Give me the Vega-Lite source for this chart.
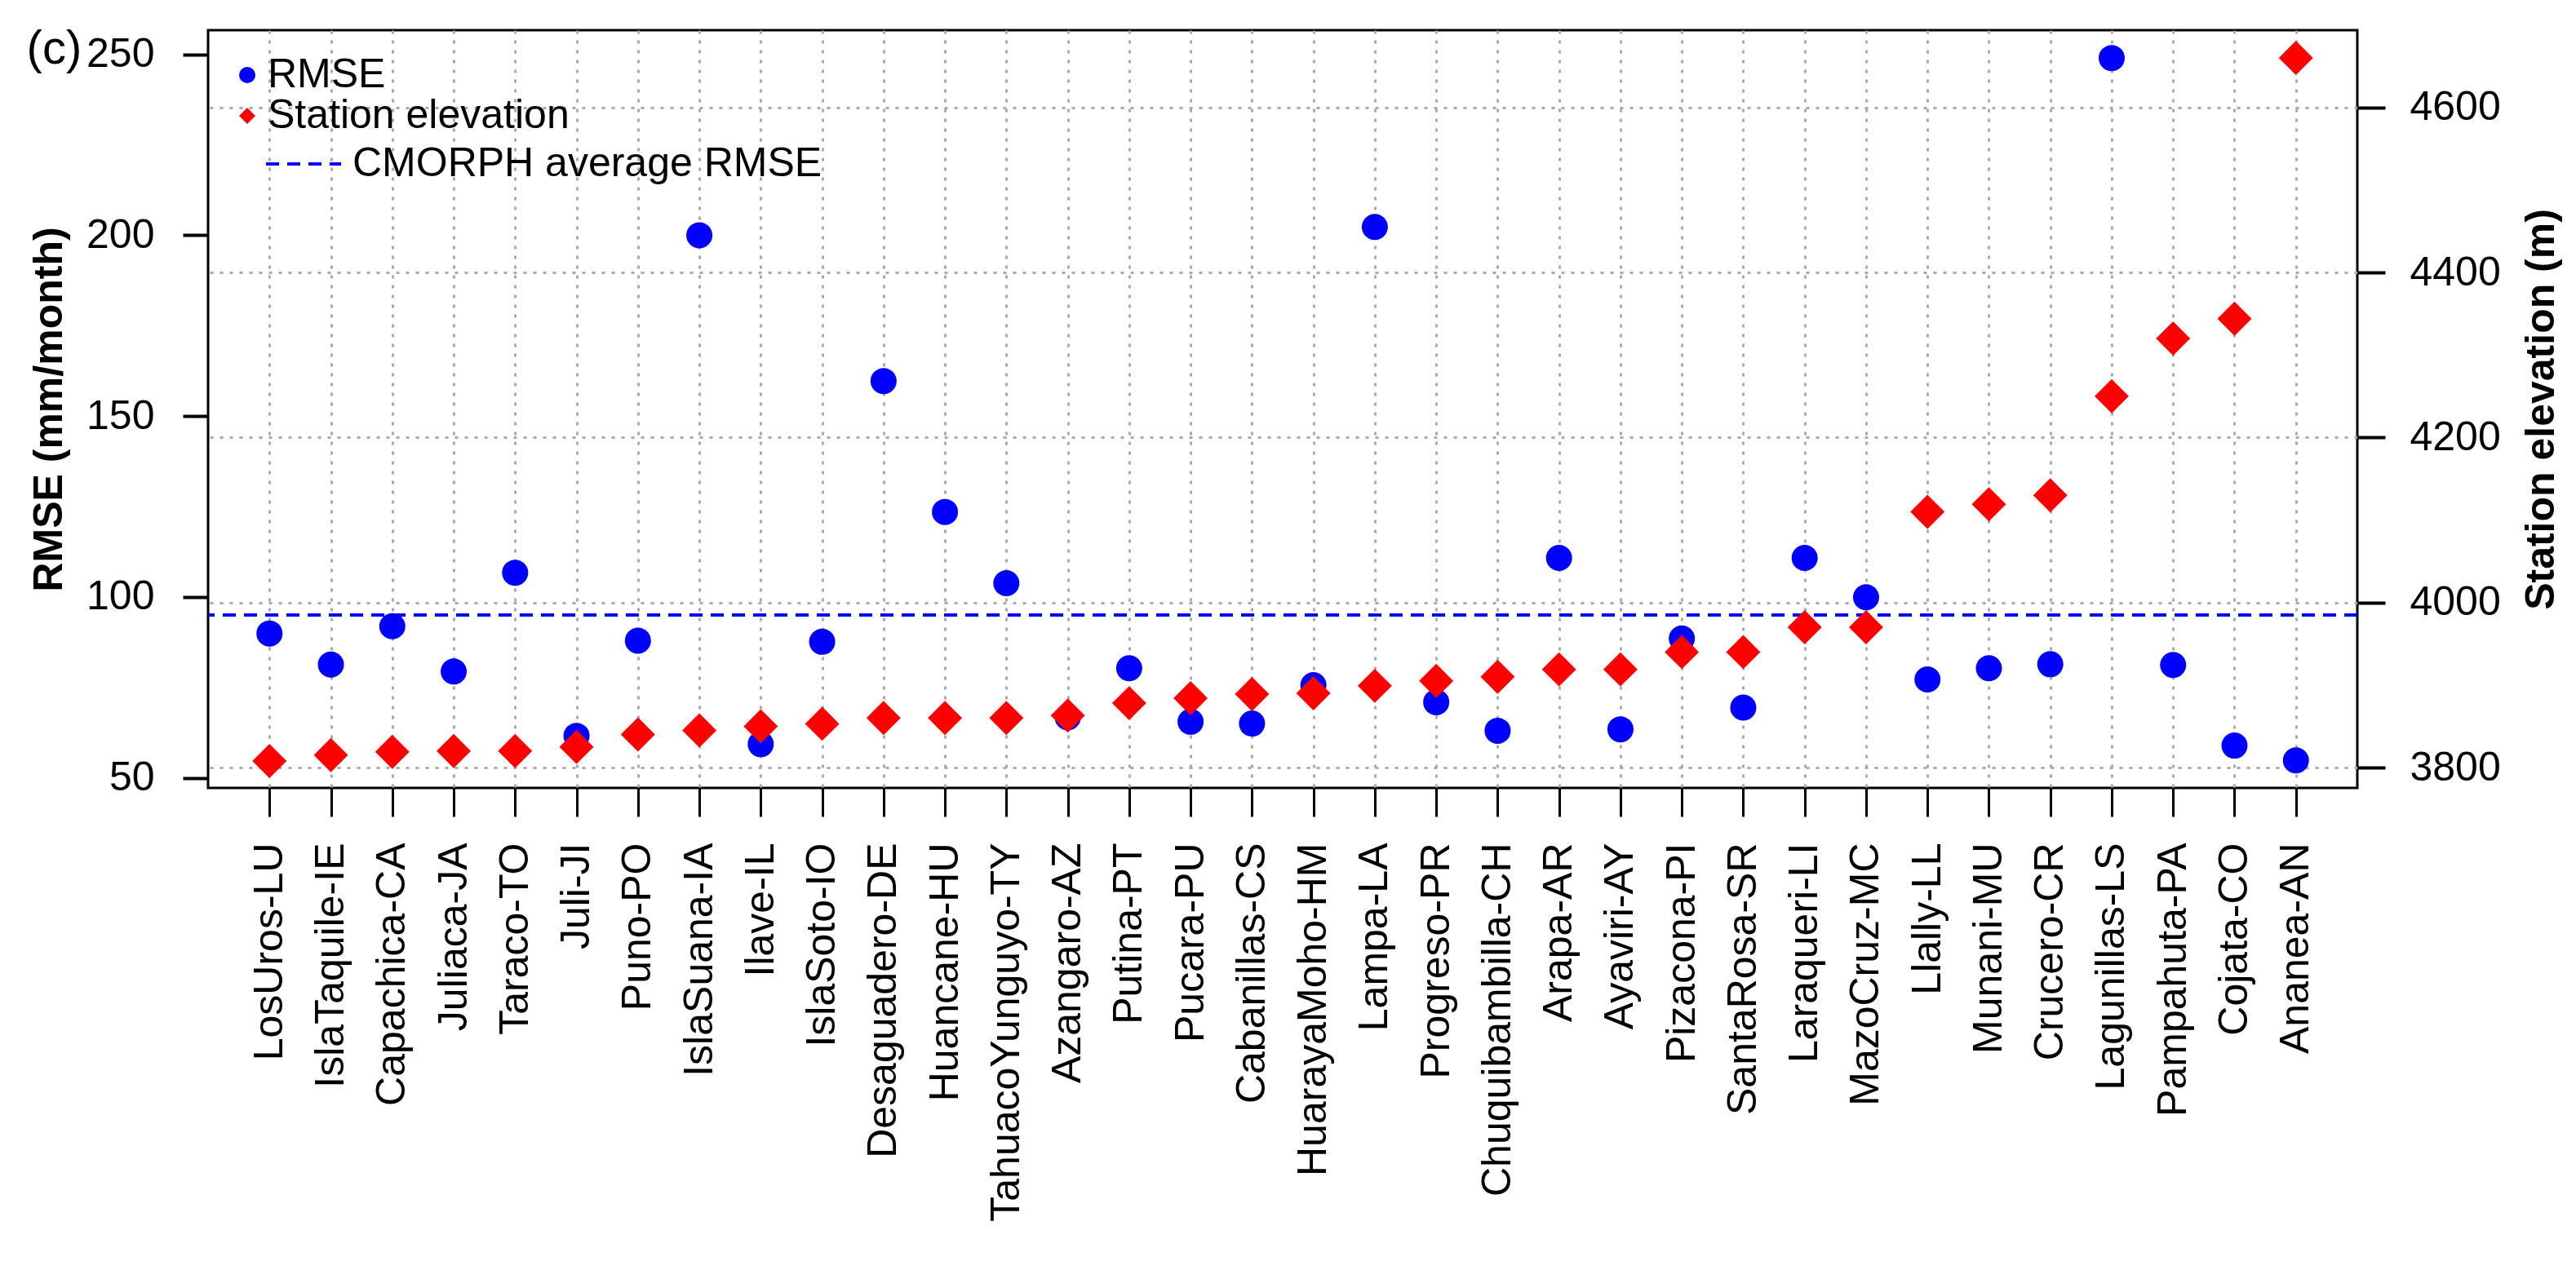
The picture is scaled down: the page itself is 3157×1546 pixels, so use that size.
{
  "$schema": "https://vega.github.io/schema/vega-lite/v6.json",
  "width": 2634,
  "height": 929,
  "autosize": {"type": "none"},
  "padding": {"left": 255, "top": 37, "right": 268, "bottom": 580},
  "background": "white",
  "title": {"text": "(c)", "anchor": "start", "frame": "bounds", "fontSize": 58, "fontWeight": "normal", "font": "Liberation Sans", "color": "black", "dx": -3, "dy": 57},
  "config": {
    "font": "Liberation Sans",
    "view": {"stroke": "black", "strokeWidth": 3},
    "axis": {"labelFont": "Liberation Sans", "labelFontSize": 50, "labelColor": "black", "titleFont": "Liberation Sans", "titleFontSize": 50, "titleFontWeight": "bold", "titleColor": "black", "tickColor": "black", "tickWidth": 3, "domain": false, "gridColor": "#aaaaaa", "gridDash": [4, 8], "gridWidth": 3, "labelOverlap": false, "labelLimit": 0},
    "legend": {"labelFont": "Liberation Sans", "labelFontSize": 50, "labelColor": "black", "padding": 0, "rowPadding": 0, "labelLimit": 0}
  },
  "datasets": {
    "stations": [
      {"station": "LosUros-LU", "rmse": 89.9, "elevation": 3808},
      {"station": "IslaTaquile-IE", "rmse": 81.3, "elevation": 3815},
      {"station": "Capachica-CA", "rmse": 91.9, "elevation": 3819},
      {"station": "Juliaca-JA", "rmse": 79.4, "elevation": 3820},
      {"station": "Taraco-TO", "rmse": 106.7, "elevation": 3820},
      {"station": "Juli-JI", "rmse": 61.6, "elevation": 3825},
      {"station": "Puno-PO", "rmse": 87.9, "elevation": 3840},
      {"station": "IslaSuana-IA", "rmse": 200.0, "elevation": 3845},
      {"station": "Ilave-IL", "rmse": 59.3, "elevation": 3850},
      {"station": "IslaSoto-IO", "rmse": 87.6, "elevation": 3853},
      {"station": "Desaguadero-DE", "rmse": 159.7, "elevation": 3860},
      {"station": "Huancane-HU", "rmse": 123.5, "elevation": 3860},
      {"station": "TahuacoYunguyo-TY", "rmse": 103.8, "elevation": 3860},
      {"station": "Azangaro-AZ", "rmse": 66.7, "elevation": 3863},
      {"station": "Putina-PT", "rmse": 80.3, "elevation": 3878},
      {"station": "Pucara-PU", "rmse": 65.5, "elevation": 3884},
      {"station": "Cabanillas-CS", "rmse": 65.0, "elevation": 3889},
      {"station": "HuarayaMoho-HM", "rmse": 75.6, "elevation": 3890},
      {"station": "Lampa-LA", "rmse": 202.3, "elevation": 3899},
      {"station": "Progreso-PR", "rmse": 70.9, "elevation": 3905},
      {"station": "Chuquibambilla-CH", "rmse": 63.0, "elevation": 3910},
      {"station": "Arapa-AR", "rmse": 110.8, "elevation": 3919},
      {"station": "Ayaviri-AY", "rmse": 63.4, "elevation": 3919},
      {"station": "Pizacona-PI", "rmse": 88.5, "elevation": 3940},
      {"station": "SantaRosa-SR", "rmse": 69.4, "elevation": 3940},
      {"station": "Laraqueri-LI", "rmse": 110.8, "elevation": 3970},
      {"station": "MazoCruz-MC", "rmse": 99.9, "elevation": 3970},
      {"station": "Llally-LL", "rmse": 77.2, "elevation": 4110},
      {"station": "Munani-MU", "rmse": 80.3, "elevation": 4119},
      {"station": "Crucero-CR", "rmse": 81.4, "elevation": 4130},
      {"station": "Lagunillas-LS", "rmse": 249.0, "elevation": 4250},
      {"station": "Pampahuta-PA", "rmse": 81.2, "elevation": 4320},
      {"station": "Cojata-CO", "rmse": 58.9, "elevation": 4344},
      {"station": "Ananea-AN", "rmse": 54.8, "elevation": 4660}
    ],
    "cmorph": [{"avg_rmse": 95}]
  },
  "layer": [
    {
      "layer": [
        {
          "data": {"name": "stations"},
          "mark": {"type": "point", "filled": true, "size": 1024, "opacity": 1, "strokeWidth": 0},
          "encoding": {
            "x": {"field": "station", "type": "nominal", "sort": null, "scale": {"type": "point", "padding": 1.32}, "axis": {"title": null, "labelAngle": -90, "tickSize": 35, "labelPadding": 32, "grid": true, "labelLimit": 0}},
            "y": {"field": "rmse", "type": "quantitative", "scale": {"domain": [47.2, 256.7], "nice": false, "zero": false}, "axis": {"orient": "left", "values": [50, 100, 150, 200, 250], "title": "RMSE (mm/month)", "tickSize": 31, "tickWidth": 4, "labelPadding": 35, "titlePadding": 20, "grid": false}},
            "color": {"datum": "RMSE", "type": "nominal", "scale": {"domain": ["RMSE", "Station elevation"], "range": ["#0000FF", "#FF0000"]}, "legend": {"orient": "none", "legendX": 23, "legendY": 30, "title": null, "symbolSize": 400, "labelOffset": 0, "labelLimit": 0}},
            "shape": {"datum": "RMSE", "type": "nominal", "scale": {"domain": ["RMSE", "Station elevation"], "range": ["circle", "diamond"]}, "legend": {"orient": "none", "legendX": 23, "legendY": 30, "title": null, "symbolSize": 400, "labelOffset": 0, "labelLimit": 0}}
          }
        },
        {
          "data": {"name": "cmorph"},
          "mark": {"type": "rule", "color": "#0000FF", "strokeWidth": 4},
          "encoding": {
            "y": {"field": "avg_rmse", "type": "quantitative"},
            "strokeDash": {"datum": "CMORPH average RMSE", "type": "nominal", "scale": {"domain": ["CMORPH average RMSE"], "range": [[16, 10]]}, "legend": {"orient": "none", "legendX": 69, "legendY": 116, "title": null, "symbolType": "stroke", "symbolSize": 8464, "symbolStrokeColor": "#0000FF", "symbolStrokeWidth": 4, "labelOffset": 12, "labelLimit": 0}}
          }
        }
      ]
    },
    {
      "data": {"name": "stations"},
      "mark": {"type": "point", "filled": true, "size": 1760, "opacity": 1, "strokeWidth": 0},
      "encoding": {
        "x": {"field": "station", "type": "nominal", "sort": null, "scale": {"type": "point", "padding": 1.32}, "axis": {"title": null, "labelAngle": -90, "tickSize": 35, "labelPadding": 32, "grid": true, "labelLimit": 0}},
        "y": {"field": "elevation", "type": "quantitative", "scale": {"domain": [3775.3, 4693.6], "nice": false, "zero": false}, "axis": {"orient": "right", "values": [3800, 4000, 4200, 4400, 4600], "format": "d", "title": "Station elevation (m)", "titleAngle": 270, "titleBaseline": "top", "tickSize": 34, "tickWidth": 4, "labelPadding": 30, "titlePadding": 25, "grid": true}},
        "color": {"datum": "Station elevation", "type": "nominal"},
        "shape": {"datum": "Station elevation", "type": "nominal"}
      }
    }
  ],
  "resolve": {"scale": {"y": "independent"}}
}
